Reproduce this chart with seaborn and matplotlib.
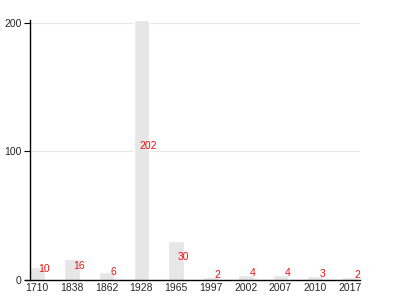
import matplotlib
matplotlib.use("Agg")
import matplotlib.pyplot as plt
import seaborn as sns
import pandas as pd

years = ["1710", "1838", "1862", "1928", "1965", "1997", "2002", "2007", "2010", "2017"]
counts = [10, 16, 6, 202, 30, 2, 4, 4, 3, 2]
yticks = [0, 100, 200]

df = pd.DataFrame({"year": years, "count": counts})

sns.set_style("white")
plt.rcParams['font.family'] = ['Liberation Sans', 'DejaVu Sans']

fig = plt.figure(figsize=(4, 3), dpi=100)
ax = fig.add_axes([0.0625, 0.0667, 0.8375, 0.8667])
sns.barplot(data=df, x="year", y="count", color="#e6e6e6", saturation=1,
            width=0.45, ax=ax, zorder=2)
ax.set_ylim(0, 202)
ax.set_xlim(-0.345, 9.287)
ax.set_yticks(yticks)
ax.yaxis.grid(True, color="#e8e8e8", linewidth=0.8, zorder=0)
ax.set_axisbelow(True)
ax.set_xlabel("")
ax.set_ylabel("")
for s in ["top", "right"]:
    ax.spines[s].set_visible(False)
for s in ["left", "bottom"]:
    ax.spines[s].set_color("black")
    ax.spines[s].set_linewidth(1)
ax.spines["left"].set_position(("axes", 0.0149))
ax.tick_params(axis="y", length=4, width=0.8, color="black", labelsize=7.5, pad=2, left=True)
ax.tick_params(axis="x", length=0, labelsize=7.5, pad=2)

for i, v in enumerate(counts):
    ax.annotate(str(v), (i + 0.2, v / 2), xytext=(0, 3), textcoords="offset points",
                color="#ee1111", fontsize=7.5, ha="center", va="center", zorder=3)

fig.savefig("out.png", dpi=100)
